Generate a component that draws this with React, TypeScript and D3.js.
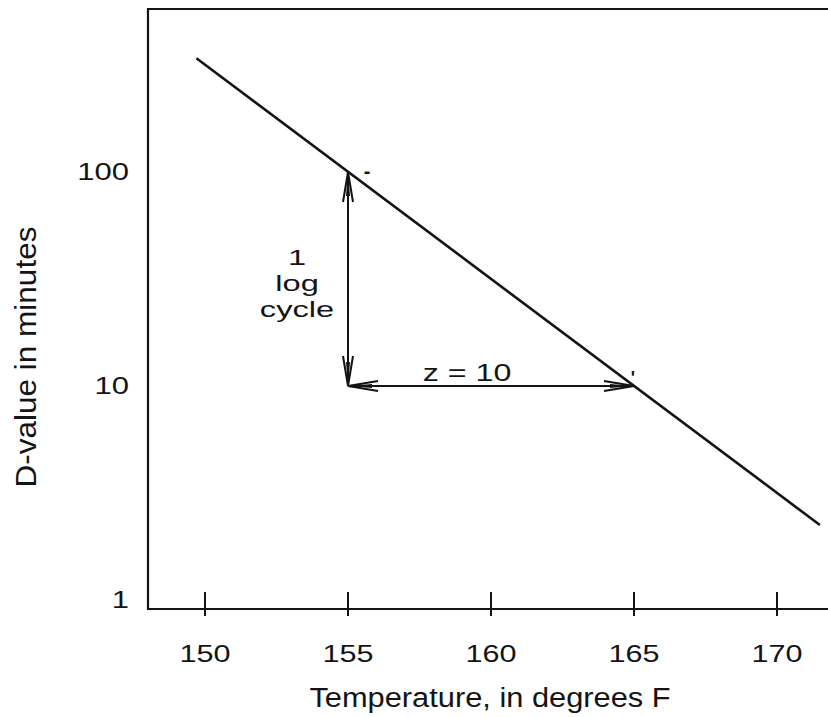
import React from 'react';
import * as d3 from 'd3';

const xTicks = [150, 155, 160, 165, 170];
const yTicks = [1, 10, 100];
const yTickLabels = ['1', '10', '100'];

// straight D-value line (1 log cycle per 10 degrees F)
const lineTemps = [149.7, 171.5];
const lineDValues = [340, 2.24];

// z-value construction
const zTemps = [155, 165];
const zDValues = [10, 100];
const cycleText = ['1', 'log', 'cycle'];

const W = 828;
const H = 717;
const frame = { left: 148, top: 9, bottom: 609 };
const ink = '#141414';
const font = '"Liberation Sans", Arial, Helvetica, sans-serif';

function arrowHead(tx: number, ty: number, dx: number, dy: number) {
  // tip at (tx,ty), pointing in direction (dx,dy)
  const len = 30;
  const hw = 5;
  const bx = tx - dx * len;
  const by = ty - dy * len;
  const px = -dy;
  const py = dx;
  const outer = `M${bx + px * hw},${by + py * hw} L${tx},${ty} L${bx - px * hw},${by - py * hw}`;
  const ix = tx - dx * len * 0.8;
  const iy = ty - dy * len * 0.8;
  const inner = `M${ix + px * 2},${iy + py * 2} L${tx},${ty} L${ix - px * 2},${iy - py * 2} Z`;
  return (
    <g>
      <path d={outer} fill="none" stroke={ink} strokeWidth={2} />
      <path d={inner} fill={ink} stroke="none" />
    </g>
  );
}

export default function App() {
  const x = d3.scaleLinear().domain([155, 165]).range([348, 634]);
  const y = d3.scaleLog().domain([10, 100]).range([386, 172]);

  const line = d3.line<number>()
    .x((_, i) => x(lineTemps[i]))
    .y((d) => y(d));

  const vx = x(zTemps[0]);
  const vTop = y(zDValues[1]);
  const vBot = y(zDValues[0]);
  const hRight = x(zTemps[1]);

  return (
    <svg width={W} height={H} style={{ position: 'absolute', left: 0, top: 0, background: '#fff' }}>
      <path
        d={`M${W},${frame.top} H${frame.left} V${frame.bottom} H${W}`}
        fill="none"
        stroke={ink}
        strokeWidth={2.2}
      />

      {xTicks.map((t) => (
        <g key={t}>
          <line x1={x(t)} x2={x(t)} y1={frame.bottom - 17} y2={frame.bottom + 7} stroke={ink} strokeWidth={2} />
          <text
            transform={`translate(${x(t)},662) scale(1.33,1)`}
            textAnchor="middle"
            fontFamily={font}
            fontSize={23}
            fill={ink}
          >
            {t}
          </text>
        </g>
      ))}

      {yTicks.map((v, i) => (
        <text
          key={v}
          transform={`translate(129,${y(v)}) scale(1.32,1)`}
          textAnchor="end"
          dy="0.36em"
          fontFamily={font}
          fontSize={23.5}
          fill={ink}
        >
          {yTickLabels[i]}
        </text>
      ))}

      <path d={line(lineDValues) ?? ''} fill="none" stroke={ink} strokeWidth={2.6} />

      {/* 1 log cycle */}
      <line x1={vx} x2={vx} y1={vTop} y2={vBot} stroke={ink} strokeWidth={2} />
      {arrowHead(vx, vTop, 0, -1)}
      {arrowHead(vx, vBot, 0, 1)}

      {/* z = 10 */}
      <line x1={vx} x2={hRight} y1={vBot} y2={vBot} stroke={ink} strokeWidth={2} />
      {arrowHead(vx, vBot, -1, 0)}
      {arrowHead(hRight, vBot, 1, 0)}

      {cycleText.map((s, i) => (
        <text
          key={s}
          transform={`translate(297,${265 + i * 26}) scale(1.45,1)`}
          textAnchor="middle"
          fontFamily={font}
          fontSize={22.5}
          fill={ink}
        >
          {s}
        </text>
      ))}
      <text
        transform={`translate(${(vx + hRight) / 2 - 24},381) scale(1.4,1)`}
        textAnchor="middle"
        fontFamily={font}
        fontSize={23}
        fill={ink}
      >
        z = 10
      </text>

      <text x={vx + 19} y={vTop + 6} textAnchor="middle" fontFamily={font} fontSize={20} fontWeight="bold" fill={ink}>-</text>
      <text x={hRight - 1} y={vBot - 2} textAnchor="middle" fontFamily={font} fontSize={18} fontWeight="bold" fill={ink}>'</text>

      <text
        transform="translate(490,707) scale(1.1,1)"
        textAnchor="middle"
        fontFamily={font}
        fontSize={28}
        fill={ink}
      >
        Temperature, in degrees F
      </text>
      <text
        transform="translate(25,357) rotate(-90) scale(1.05,1)"
        textAnchor="middle"
        dy="0.36em"
        fontFamily={font}
        fontSize={30}
        fill={ink}
      >
        D-value in minutes
      </text>
    </svg>
  );
}
